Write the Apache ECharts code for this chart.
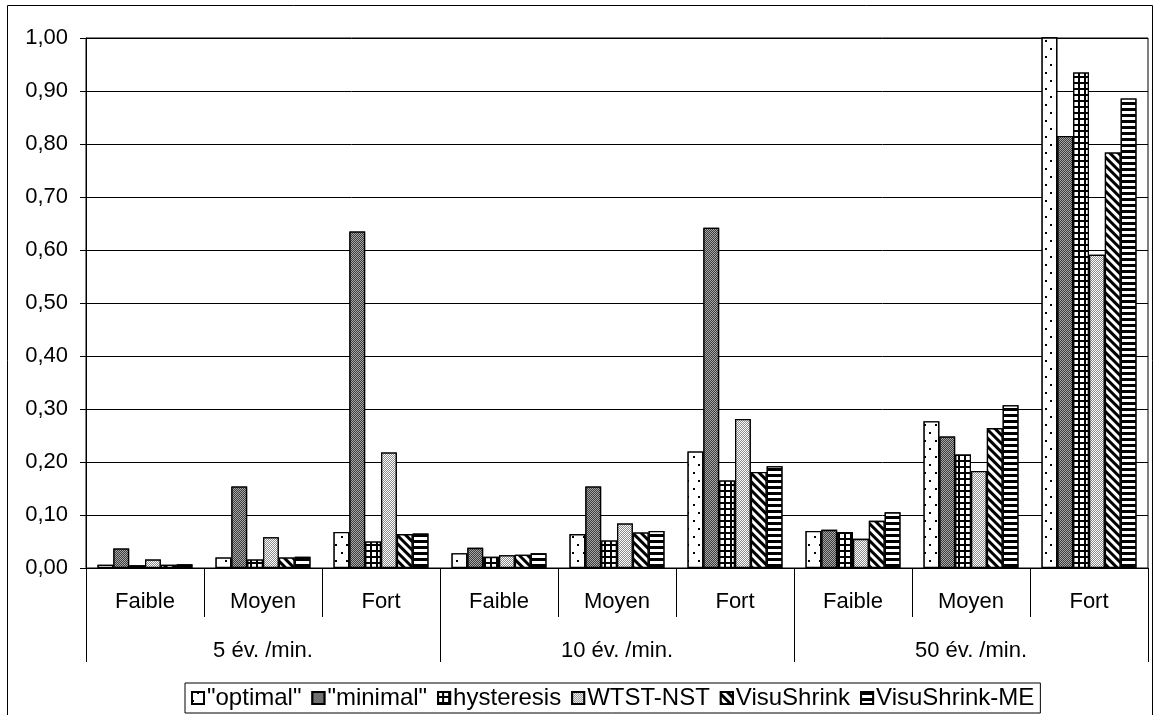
<!DOCTYPE html>
<html>
<head>
<meta charset="utf-8">
<script src="https://cdn.jsdelivr.net/npm/echarts@6/dist/echarts.min.js"></script>
<style>
html,body{margin:0;padding:0;background:#fff;}
#chart{width:1159px;height:715px;}
</style>
</head>
<body>
<div id="chart"></div>
<script>
// ---- data ----
const categories = ['Faible', 'Moyen', 'Fort', 'Faible', 'Moyen', 'Fort', 'Faible', 'Moyen', 'Fort'];
const groups = ['5 év. /min.', '10 év. /min.', '50 év. /min.'];
const yTicks = [0, 0.1, 0.2, 0.3, 0.4, 0.5, 0.6, 0.7, 0.8, 0.9, 1.0];
const seriesNames = ['"optimal"', '"minimal"', 'hysteresis', 'WTST-NST', 'VisuShrink', 'VisuShrink-ME'];
const optimal = [0.006, 0.020, 0.068, 0.028, 0.064, 0.220, 0.070, 0.277, 1.05];
const minimal = [0.037, 0.154, 0.635, 0.038, 0.154, 0.642, 0.072, 0.248, 0.815];
const hysteresis = [0.005, 0.016, 0.050, 0.021, 0.052, 0.165, 0.068, 0.214, 0.935];
const wtstNst = [0.016, 0.058, 0.218, 0.024, 0.084, 0.281, 0.055, 0.183, 0.591];
const visuShrink = [0.006, 0.020, 0.064, 0.025, 0.067, 0.181, 0.089, 0.264, 0.784];
const visuShrinkME = [0.007, 0.021, 0.065, 0.028, 0.070, 0.192, 0.105, 0.307, 0.886];

const seriesData = [optimal, minimal, hysteresis, wtstNst, visuShrink, visuShrinkME];

const FONT = '"Liberation Sans", Arial, sans-serif';
const FS = 22;
const LFS = 24;
const decals = [
  { symbol: 'rect', color: '#000', backgroundColor: '#fff', symbolSize: 1,
    dashArrayX: [[1.3, 8.7], [0, 5, 1.3, 3.7]], dashArrayY: [1.3, 5.2] },
  { symbol: 'rect', color: '#3c3c3c', backgroundColor: '#a8a8a8', symbolSize: 1,
    dashArrayX: [[1, 1], [0, 1, 1, 0]], dashArrayY: [1, 0] },
  { symbol: 'rect', color: '#fff', backgroundColor: '#000', symbolSize: 1,
    dashArrayX: [4, 1.4], dashArrayY: [4, 1.4] },
  { symbol: 'rect', color: '#8a8a8a', backgroundColor: '#fff', symbolSize: 1,
    dashArrayX: [[1, 1], [0, 1, 1, 0]], dashArrayY: [1, 0] },
  { symbol: 'rect', color: '#000', backgroundColor: '#fff', symbolSize: 1,
    dashArrayX: [1, 0], dashArrayY: [2.2, 2.2], rotation: Math.PI / 4 },
  { symbol: 'rect', color: '#000', backgroundColor: '#fff', symbolSize: 1,
    dashArrayX: [1, 0], dashArrayY: [3, 3] }
];

const chart = echarts.init(document.getElementById('chart'), null, { renderer: 'canvas' });

const series = seriesNames.map((name, i) => ({
  name: name,
  type: 'bar',
  xAxisIndex: 0,
  yAxisIndex: 0,
  data: seriesData[i],
  clip: true,
  barGap: '0%',
  barCategoryGap: '19.5%',
  itemStyle: {
    color: '#fff',
    borderColor: '#000',
    borderWidth: 1.3,
    decal: decals[i]
  },
  emphasis: { disabled: true },
  animation: false
}));

chart.setOption({
  animation: false,
  backgroundColor: '#fff',
  textStyle: { fontFamily: FONT },
  graphic: [{
    type: 'rect',
    shape: { x: 7.5, y: 5.5, width: 1145, height: 730 },
    style: { fill: 'none', stroke: '#000', lineWidth: 1 },
    silent: true,
    z: -1
  }],
  grid: {
    left: 86, right: 11, top: 38, bottom: 147,
    show: true, borderColor: '#000', borderWidth: 1, backgroundColor: 'transparent'
  },
  legend: {
    data: seriesNames,
    bottom: 2,
    left: 185,
    orient: 'horizontal',
    itemWidth: 12,
    itemHeight: 12,
    itemGap: 10,
    padding: [3, 6, 3, 6],
    borderColor: '#000',
    borderWidth: 1,
    icon: 'rect',
    textStyle: { fontFamily: FONT, fontSize: LFS, color: '#000', padding: [0, 0, 0, -2] }
  },
  xAxis: [{
    type: 'category',
    data: categories,
    position: 'bottom',
    axisLine: { show: true, lineStyle: { color: '#000', width: 1 } },
    axisTick: { show: true, length: 49, lineStyle: { color: '#000', width: 1 } },
    axisLabel: { margin: 23, fontSize: FS, color: '#000', fontFamily: FONT, interval: 0 },
    splitLine: { show: false }
  }, {
    type: 'category',
    data: groups,
    position: 'bottom',
    axisLine: { show: false },
    axisTick: { show: true, length: 94, lineStyle: { color: '#000', width: 1 } },
    axisLabel: { margin: 72, fontSize: FS, color: '#000', fontFamily: FONT, interval: 0 },
    splitLine: { show: false }
  }],
  yAxis: {
    type: 'value',
    min: yTicks[0],
    max: yTicks[yTicks.length - 1],
    interval: 0.1,
    axisLine: { show: true, lineStyle: { color: '#000', width: 1 } },
    axisTick: { show: true, inside: false, length: 6, lineStyle: { color: '#000' } },
    axisLabel: {
      margin: 18, fontSize: FS, color: '#000', fontFamily: FONT,
      formatter: v => v.toFixed(2).replace('.', ',')
    },
    splitLine: { show: true, lineStyle: { color: '#000', width: 1 } }
  },
  series: series
});
</script>
</body>
</html>
